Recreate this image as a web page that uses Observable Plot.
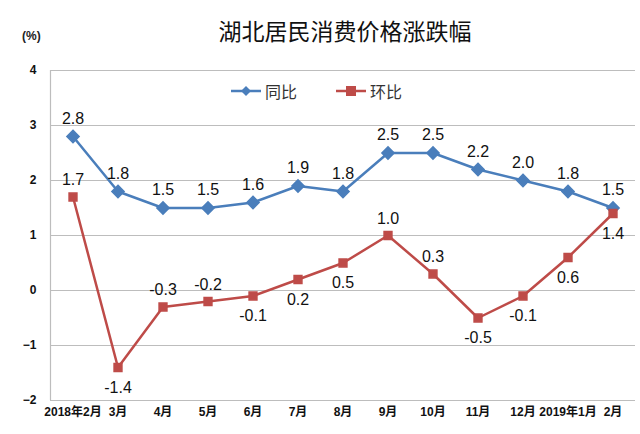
<!DOCTYPE html>
<html><head><meta charset="utf-8">
<script src="https://cdn.jsdelivr.net/npm/d3@7"></script>
<script src="https://cdn.jsdelivr.net/npm/@observablehq/plot@0.6"></script>
<style>
body{margin:0;background:#fff;}
#wrap{position:relative;width:640px;height:434px;font-family:"Liberation Sans","Noto Sans CJK SC",sans-serif;overflow:hidden;}
#title{position:relative;height:55px;}
#title .t{position:absolute;left:0;width:690px;top:15px;text-align:center;font-family:"Noto Sans CJK SC",sans-serif;font-size:23px;line-height:30px;color:#111;}
#title .u{position:absolute;left:22px;top:29px;font-size:12px;font-weight:bold;color:#222;}
#legend{position:absolute;top:79px;left:230px;display:flex;align-items:center;font-family:"Noto Sans CJK SC",sans-serif;font-size:16px;color:#333;}
#legend .item{display:flex;align-items:center;margin-right:38px;}
#legend svg{margin-right:3px;}
</style></head>
<body>
<div id="wrap">
  <div id="title"><div class="t">湖北居民消费价格涨跌幅</div><div class="u">(%)</div></div>
  <div id="chart"></div>
  <div id="legend"></div>
</div>
<script>
const months = ["2018年2月","3月","4月","5月","6月","7月","8月","9月","10月","11月","12月","2019年1月","2月"];
const yoy = [2.8,1.8,1.5,1.5,1.6,1.9,1.8,2.5,2.5,2.2,2.0,1.8,1.5];
const mom = [1.7,-1.4,-0.3,-0.2,-0.1,0.2,0.5,1.0,0.3,-0.5,-0.1,0.6,1.4];
const momLabelBelow = [false,true,false,false,true,true,true,false,false,true,true,true,true];
const yTicks = [-2,-1,0,1,2,3,4];
const seriesNames = ["同比","环比"];
const colors = {"同比":"#4A7EBB","环比":"#BE4B48"};

const yoyData = months.map((m,i)=>({i, m, v: yoy[i]}));
const momData = months.map((m,i)=>({i, m, v: mom[i], below: momLabelBelow[i]}));

const chart = Plot.plot({
  width: 640,
  height: 379,
  marginTop: 15,
  marginBottom: 34,
  marginLeft: 50,
  marginRight: 5,
  style: {fontFamily: "Liberation Sans, Noto Sans CJK SC, sans-serif", background: "#fff", overflow: "visible"},
  x: {domain: [-0.5, months.length - 0.5], label: null},
  y: {domain: [-2, 4], label: null},
  marks: [
    Plot.gridY(yTicks, {stroke: "#bdbdbd", strokeOpacity: 1, strokeWidth: 1.2}),
    Plot.ruleX([-0.5], {stroke: "#bdbdbd", strokeWidth: 1.2}),
    Plot.axisY({ticks: yTicks, tickFormat: d3.format("d"), tickSize: 0, tickPadding: 14, fontSize: 12, fontWeight: "bold", fill: "#111"}),
    Plot.axisX({ticks: d3.range(months.length), tickFormat: i => months[i], tickSize: 0, tickPadding: 7, fontSize: 12, fontWeight: "bold", fill: "#111", fontFamily: "Liberation Sans Narrow, Liberation Sans, Noto Sans CJK SC, sans-serif"}),
    Plot.line(yoyData, {x: "i", y: "v", stroke: colors["同比"], strokeWidth: 2.5}),
    Plot.line(momData, {x: "i", y: "v", stroke: colors["环比"], strokeWidth: 2.5}),
    Plot.dot(yoyData, {x: "i", y: "v", symbol: "diamond2", r: 5.5, fill: colors["同比"], stroke: colors["同比"]}),
    Plot.dot(momData, {x: "i", y: "v", symbol: "square2", r: 5, fill: colors["环比"], stroke: colors["环比"]}),
    Plot.text(yoyData, {x: "i", y: "v", text: d => d.v.toFixed(1), dy: -18, fontSize: 16, fill: "#111"}),
    Plot.text(momData.filter(d => !d.below), {x: "i", y: "v", text: d => d.v.toFixed(1), dy: -17, fontSize: 16, fill: "#111"}),
    Plot.text(momData.filter(d => d.below), {x: "i", y: "v", text: d => d.v.toFixed(1), dy: 20, fontSize: 16, fill: "#111"})
  ]
});
document.getElementById("chart").appendChild(chart);

const legend = document.getElementById("legend");
seriesNames.forEach((name, k) => {
  const item = document.createElement("div");
  item.className = "item";
  const c = colors[name];
  const marker = k === 0
    ? `<path d="M16 5 L21 10 L16 15 L11 10 Z" fill="${c}"/>`
    : `<rect x="11" y="5" width="10" height="10" fill="${c}"/>`;
  item.innerHTML = `<svg width="32" height="20"><line x1="1" x2="31" y1="10" y2="10" stroke="${c}" stroke-width="2.5"/>${marker}</svg><span>${name}</span>`;
  legend.appendChild(item);
});
</script>
</body></html>
